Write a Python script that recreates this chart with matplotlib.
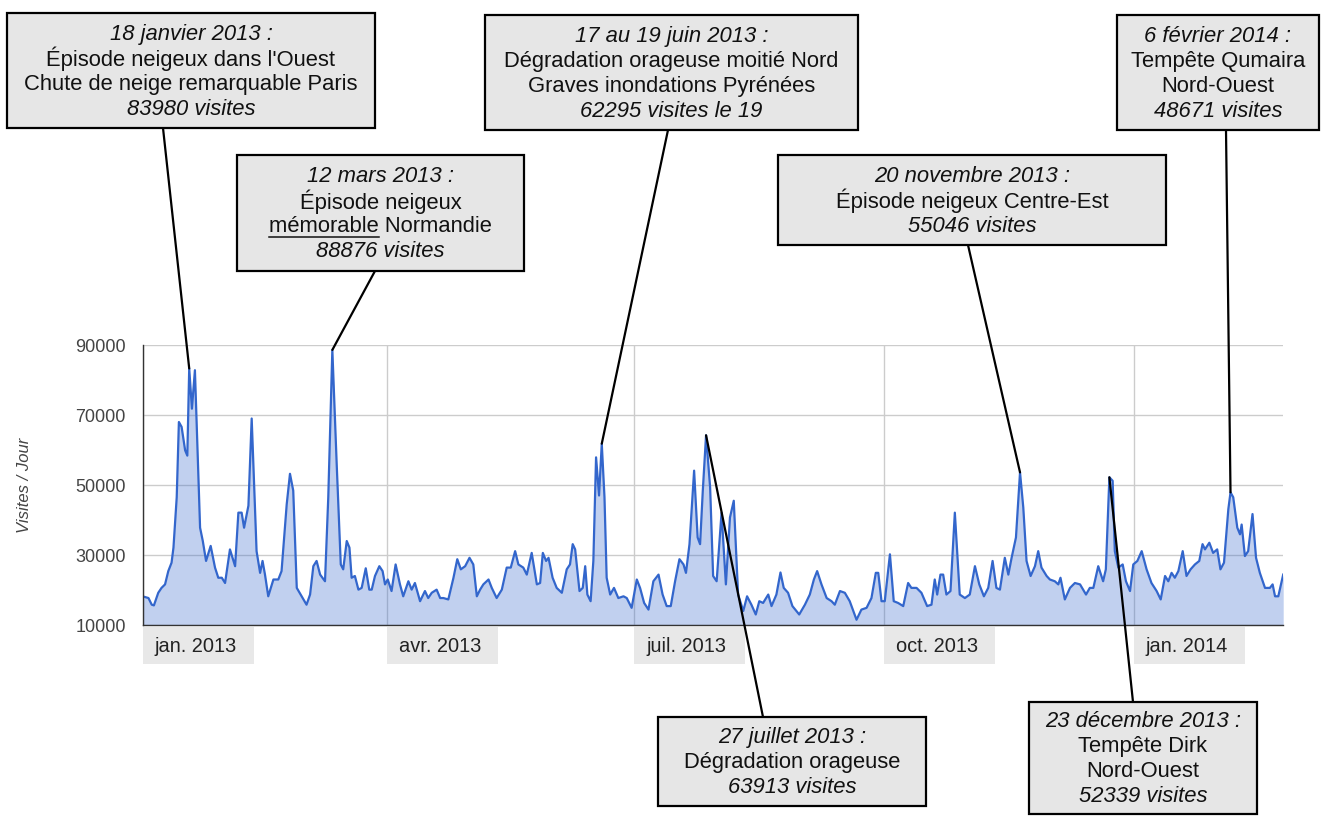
import numpy as np
import matplotlib.pyplot as plt
import matplotlib.transforms as mtransforms
from matplotlib.patches import Rectangle, ConnectionPatch

plt.rcParams['font.family'] = ['Liberation Sans', 'DejaVu Sans']

# jours depuis le 1er janvier 2013 et visites/jour
jours = [0.0, 2.2, 3.4, 4.2, 5.8, 7.0, 8.3, 9.5, 10.7, 11.4, 12.6, 13.4, 14.4, 15.7, 16.5,
         17.2, 18.2, 19.3, 21.2, 22.2, 23.4, 25.1, 26.7, 27.9, 29.2, 30.4, 32.2, 34.1, 35.3,
         36.5, 37.4, 39.0, 40.2, 42.0, 43.3, 44.2, 45.1, 46.3, 48.2, 50.0, 51.2, 53.1, 54.3,
         55.5, 56.8, 58.6, 60.4, 61.7, 62.9, 64.1, 65.4, 67.2, 68.4, 69.9, 71.5, 73.0, 73.9,
         75.2, 76.2, 77.0, 78.2, 79.5, 80.7, 82.2, 83.5, 84.4, 85.6, 87.2, 88.4, 89.3, 90.3,
         91.7, 93.2, 94.8, 96.0, 97.9, 99.1, 100.3, 102.2, 104.0, 105.2,
         106.5, 108.3, 109.6, 110.8, 112.6, 114.5, 115.9, 117.2, 118.8, 120.4, 121.8, 123.1,
         124.3, 125.5, 127.4, 128.6, 130.4, 132.3, 134.1, 135.6, 137.2, 138.4, 140.2, 141.5,
         143.3, 145.2, 146.4, 147.4, 148.6, 149.5, 151.0, 152.5, 154.4, 156.2, 157.4, 158.4,
         159.3, 160.9, 162.1, 163.0, 163.8, 165.0, 166.0, 167.0, 168.1, 169.1, 170.1, 170.9,
         172.2, 173.6, 175.2, 177.1, 178.3, 180.1, 182.0, 183.2, 184.7, 186.3, 188.1, 190.0,
         191.5, 193.0, 194.5, 196.1, 197.7, 199.2, 200.1, 201.4, 203.1, 204.4, 205.3, 206.3,
         207.5, 209.0, 210.1, 211.4,
         213.2, 214.8, 216.3, 217.7, 219.3, 221.2, 222.6, 224.2, 225.8, 227.1, 228.5, 230.4,
         231.6, 233.4, 234.9, 236.1, 237.7, 239.3, 241.8, 243.9, 245.7, 247.2, 248.4, 250.0,
         251.9, 253.7, 254.9, 256.8, 258.6, 260.4, 262.9, 264.7, 266.6, 268.4, 270.0, 270.9,
         272.1, 273.3, 275.2, 276.6, 278.2, 280.1, 281.9, 283.1, 285.0, 286.8, 288.9, 290.5,
         291.7, 292.6, 293.8, 294.8, 296.0, 297.5, 299.1, 300.9, 302.8, 304.6, 306.5, 308.1,
         309.8, 311.4, 313.0, 314.4,
         315.7, 317.5, 318.8, 320.0, 321.6, 323.1, 324.3, 325.5, 327.0, 328.6, 329.8, 331.0,
         332.9, 334.1, 335.9, 337.2, 338.0, 339.6, 341.5, 343.3, 345.2, 347.4, 348.8, 350.1,
         351.9, 353.7, 354.7, 356.0, 357.2, 358.0, 359.3, 360.9, 362.1, 363.6, 364.8, 366.3,
         367.9, 369.7, 371.5, 373.4, 374.9, 376.5, 377.7, 378.9, 380.1, 381.4, 383.0, 384.4,
         385.9, 387.5, 389.1, 390.3, 391.2, 392.8, 394.2, 395.7, 396.9, 398.2, 399.8, 400.6,
         401.6, 403.1, 404.1, 404.7, 405.9, 407.1, 408.7, 410.0, 411.4, 413.3, 415.1, 416.1,
         417.0, 418.2, 420.0]
visites = [18200, 17700, 15800, 15600, 19200, 20600, 21600, 25400, 27800, 32100, 46500, 68000,
           66600, 59900, 58400, 83300, 71800, 82800, 37800, 34000, 28300, 32600, 26400, 23500,
           23500, 22000, 31600, 26800, 42100, 42100, 37800, 44100, 69000, 31100, 24900, 28300,
           24400, 18200, 23000, 23000, 25400, 44500, 53200, 48400, 20600, 18200, 15800, 18700,
           26800, 28300, 24400, 22500, 46500, 88600, 56000, 27300, 25900, 34000, 32100, 23500,
           24000, 20100, 20600, 26200, 20100, 20100, 24000, 26800, 25400, 21600, 23000, 19700,
           27300, 21600, 18200, 22500, 20100, 22000, 16800, 19700, 17700,
           19200, 20100, 17700, 17700, 17300, 23500, 28800, 25900, 26800, 29200, 27300, 18200,
           20100, 21600, 23000, 20600, 17700, 20100, 26400, 26400, 31100, 27300, 26400, 24400,
           30600, 21600, 22000, 30600, 28300, 29200, 23500, 20600, 19200, 25900, 27300, 33100,
           31600, 19700, 20600, 26800, 18700, 16800, 28300, 57900, 47000, 61800, 46500, 23500,
           18700, 20600, 17700, 18200, 17700, 14900, 23000, 20600, 16300, 14400, 22500, 24400,
           18700, 15400, 15400, 22500, 28800, 27300, 24900, 33100, 54100, 35000, 33100, 48400,
           64200, 49300, 24000, 22500,
           42100, 21600, 40700, 45500, 18700, 14000, 18200, 15800, 13000, 16800, 16300, 18700,
           15400, 18700, 25000, 20600, 19200, 15400, 13000, 15800, 18700, 23000, 25400, 21600,
           17700, 16800, 15800, 19700, 19200, 16800, 11500, 14400, 14900, 17700, 24900, 24900,
           16800, 16800, 30200, 16800, 16300, 15400, 22000, 20600, 20600, 19200, 15400, 15800,
           23000, 18700, 24400, 24400, 18700, 19700, 42100, 18700, 17700, 18700, 26800, 21600,
           18200, 20600, 28300, 20600,
           20100, 29200, 24400, 29200, 35000, 53600, 43600, 28300, 24000, 26800, 31100, 26400,
           24000, 23000, 22500, 21600, 23500, 17300, 20600, 22000, 21600, 18700, 20600, 20600,
           26800, 22500, 25900, 52200, 51200, 31100, 26400, 27300, 22500, 19700, 27300, 28300,
           31100, 25900, 22000, 19700, 17300, 24000, 22500, 24900, 23500, 25400, 31100, 24000,
           25900, 27300, 28300, 33100, 31600, 33500, 30600, 31600, 25900, 27800, 43100, 47900,
           46500, 37800, 35900, 38700, 29700, 31100, 41700, 29200, 24900, 20600, 20600, 21600,
           18200, 18200, 24400]

mois_pos = [0, 90, 181, 273, 365]
mois_labels = ['jan. 2013', 'avr. 2013', 'juil. 2013', 'oct. 2013', 'jan. 2014']
y_ticks = [10000, 30000, 50000, 70000, 90000]

# événements annotés : jour du pic, lignes de texte
evt_jours = [17.2, 69.9, 169.1, 356.0, 207.5, 323.1, 400.6]
evt_textes = [
    ["18 janvier 2013 :", "Épisode neigeux dans l'Ouest",
     "Chute de neige remarquable Paris", "83980 visites"],
    ["12 mars 2013 :", "Épisode neigeux", "mémorable Normandie", "88876 visites"],
    ["17 au 19 juin 2013 :", "Dégradation orageuse moitié Nord",
     "Graves inondations Pyrénées", "62295 visites le 19"],
    ["23 décembre 2013 :", "Tempête Dirk", "Nord-Ouest", "52339 visites"],
    ["27 juillet 2013 :", "Dégradation orageuse", "63913 visites"],
    ["20 novembre 2013 :", "Épisode neigeux Centre-Est", "55046 visites"],
    ["6 février 2014 :", "Tempête Qumaira", "Nord-Ouest", "48671 visites"],
]
# cadres en pixels (x0, y0, x1, y1) et départ du trait
boites = [(7, 13, 375, 128), (237, 155, 524, 271), (485, 15, 858, 130),
          (1029, 702, 1257, 814), (658, 717, 926, 806), (778, 155, 1166, 245),
          (1117, 15, 1319, 130)]
departs = [(163, 128), (375, 271), (668, 130), (1133, 702), (763, 717),
           (968, 245), (1226, 130)]

W, H = 1321, 817
fig = plt.figure(figsize=(W / 100, H / 100), dpi=100)
ax = fig.add_axes([142.5 / W, 1 - 625 / H, 1140.7 / W, 280 / H])

ax.fill_between(jours, visites, 10000, color='#3366cc', alpha=0.3, lw=0)
ax.plot(jours, visites, color='#3366cc', lw=1.6)
ax.set_xlim(0, 420)
ax.set_ylim(10000, 90000)
ax.set_yticks(y_ticks)
ax.set_yticklabels([str(v) for v in y_ticks])
ax.set_xticks(mois_pos)
ax.set_xticklabels([])
ax.tick_params(length=0)
ax.tick_params(axis='y', labelsize=13, labelcolor='#444444', pad=12)
ax.grid(True, color='#cccccc', lw=1)
ax.set_axisbelow(True)
for s in ['top', 'right']:
    ax.spines[s].set_visible(False)
for s in ['left', 'bottom']:
    ax.spines[s].set_color('#333333')
    ax.spines[s].set_linewidth(1)

# étiquettes des mois dans des cases grises
trans = mtransforms.blended_transform_factory(ax.transData, ax.transAxes)
for pos, lab in zip(mois_pos, mois_labels):
    ax.add_patch(Rectangle((pos, -0.007), 40.9, -0.133, transform=trans,
                           facecolor='#e8e8e8', edgecolor='none', clip_on=False))
    ax.text(pos + 4.4, -0.078, lab, transform=trans, ha='left', va='center',
            fontsize=14.4, color='#222222')

fig.text(25 / W, 1 - 485 / H, 'Visites / Jour', rotation=90, ha='center', va='center',
         fontsize=12, style='italic', color='#444444')

# calque en pixels pour les cadres
ov = fig.add_axes([0, 0, 1, 1], zorder=3)
ov.set_xlim(0, W)
ov.set_ylim(H, 0)
ov.axis('off')
ov.patch.set_alpha(0)

renderer = fig.canvas.get_renderer()
fs = 15.8
for d, lignes, (x0, y0, x1, y1), (sx, sy) in zip(evt_jours, evt_textes, boites, departs):
    v = visites[jours.index(d)]
    cp = ConnectionPatch(xyA=(sx, sy), coordsA=ov.transData, xyB=(d, v), coordsB=ax.transData,
                         color='black', lw=1.6, zorder=2)
    fig.add_artist(cp)
    ov.add_patch(Rectangle((x0, y0), x1 - x0, y1 - y0, facecolor='#e6e6e6',
                           edgecolor='black', lw=1.6, zorder=4))
    cx, cy = (x0 + x1) / 2, (y0 + y1) / 2
    n = len(lignes)
    for i, txt in enumerate(lignes):
        ty = cy + (i - (n - 1) / 2) * 25 + 1
        style = 'italic' if i in (0, n - 1) else 'normal'
        t = ov.text(cx, ty, txt, ha='center', va='center', fontsize=fs, style=style,
                    color='#111111', zorder=5)
        if txt.startswith('mémorable'):
            bb = t.get_window_extent(renderer)
            tmp = ov.text(0, 0, 'mémorable', fontsize=fs)
            w = tmp.get_window_extent(renderer).width
            tmp.remove()
            ov.plot([bb.x0, bb.x0 + w], [ty + 10, ty + 10], color='#111111', lw=1.1, zorder=5)

fig.savefig('out.png', dpi=100)
